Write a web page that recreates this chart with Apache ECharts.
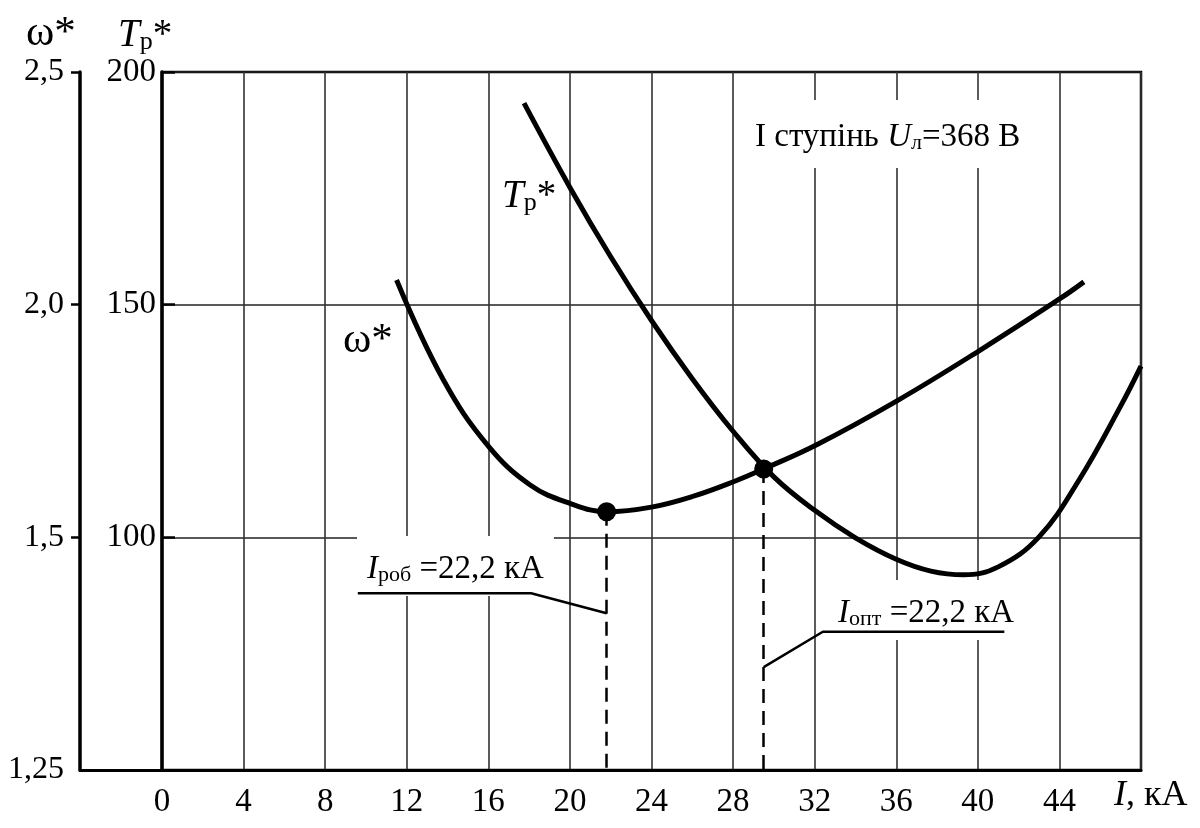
<!DOCTYPE html>
<html>
<head>
<meta charset="utf-8">
<script src="https://cdn.jsdelivr.net/npm/echarts@6/dist/echarts.min.js"></script>
<style>
html,body{margin:0;padding:0;background:#fff;}
#main{width:1200px;height:828px;}
</style>
</head>
<body>
<div id="main"></div>
<script>
// ---- data ----
const xTicks = [0, 4, 8, 12, 16, 20, 24, 28, 32, 36, 40, 44];
const omegaTickLabels = {1: '1,25', 1.5: '1,5', 2: '2,0', 2.5: '2,5'};
const tTickLabels = [100, 150, 200];

// T_p* curve: [I, kA ; T_p*]
const tpCurve = [
  [17.75, 193.3], [20, 175.2], [22, 160.3], [24, 146.6], [26, 134.1],
  [28, 122.8], [30, 113.0], [32, 105.8], [34, 99.9], [36, 95.3],
  [37.7, 92.75], [39.3, 91.95], [41, 93.65], [43, 100.1], [45, 112.6],
  [47, 128.2], [48, 136.8]
];
// omega* curve: [I, kA ; omega*]
const omegaCurve = [
  [11.5, 2.053], [13.8, 1.838], [16.0, 1.696], [18.07, 1.612],
  [20.0, 1.573], [21.8, 1.555], [24.0, 1.565], [26.1, 1.589], [28.05, 1.620],
  [29.5, 1.647], [32.1, 1.699], [36.1, 1.795], [40.1, 1.902], [44.1, 2.015],
  [45.2, 2.049]
];
// marked points (I_rob and I_opt) on omega* scale
const markedPoints = [[21.8, 1.555], [29.5, 1.647]];
// leader lines of the two annotations (omega* scale)
const leaderRob = [[9.6, 1.380], [18.1, 1.380], [21.8, 1.337]];
const leaderOpt = [[29.5, 1.221], [32.4, 1.297], [41.3, 1.297]];

// ---- chart ----
const FONT = 'Liberation Serif';
const chart = echarts.init(document.getElementById('main'), null, {renderer: 'canvas'});

const richBase = {
  n:   {fontFamily: FONT, fontSize: 33, lineHeight: 40, verticalAlign: 'bottom', color: '#000'},
  it:  {fontFamily: FONT, fontSize: 33, lineHeight: 40, fontStyle: 'italic', verticalAlign: 'bottom', color: '#000'},
  sub: {fontFamily: FONT, fontSize: 22, lineHeight: 27, verticalAlign: 'bottom', color: '#000'},
  xn:  {fontFamily: FONT, fontSize: 36, lineHeight: 43, verticalAlign: 'bottom', color: '#000'},
  xit: {fontFamily: FONT, fontSize: 36, lineHeight: 43, fontStyle: 'italic', verticalAlign: 'bottom', color: '#000'},
  om:  {fontFamily: FONT, fontSize: 43, lineHeight: 48, verticalAlign: 'bottom', color: '#000'},
  bn:  {fontFamily: FONT, fontSize: 39, lineHeight: 46, verticalAlign: 'bottom', color: '#000'},
  bit: {fontFamily: FONT, fontSize: 39, lineHeight: 46, fontStyle: 'italic', verticalAlign: 'bottom', color: '#000'},
  bsub:{fontFamily: FONT, fontSize: 26, lineHeight: 31, verticalAlign: 'bottom', color: '#000'}
};

function txt(x, y, text, extra) {
  return {
    type: 'text', x: x, y: y, z: 5, silent: true,
    style: Object.assign({text: text, rich: richBase, align: 'left', verticalAlign: 'bottom',
      fill: '#000', font: '33px ' + FONT}, (extra || {}))
  };
}

const option = {
  animation: false,
  backgroundColor: '#fff',
  grid: [
    {left: 162, right: 59, top: 72, bottom: 58, show: true, borderColor: '#000', borderWidth: 2.5, backgroundColor: 'transparent'},
    {left: 80, width: 82, top: 72, bottom: 58, show: false}
  ],
  xAxis: [
    {
      type: 'value', gridIndex: 0, min: 0, max: 48, interval: 4,
      axisLine: {show: true, onZero: false, lineStyle: {color: '#000', width: 3}},
      axisTick: {show: false},
      axisLabel: {
        margin: 16, color: '#000', fontFamily: FONT, fontSize: 33,
        formatter: v => (xTicks.indexOf(v) >= 0 ? String(v) : '')
      },
      splitLine: {show: true, lineStyle: {color: '#333', width: 1.6}}
    },
    {
      type: 'value', gridIndex: 1, min: 0, max: 1,
      axisLine: {show: true, onZero: false, lineStyle: {color: '#000', width: 3}},
      axisTick: {show: false}, axisLabel: {show: false}, splitLine: {show: false}
    }
  ],
  yAxis: [
    { // T_p* axis
      type: 'value', gridIndex: 0, position: 'left', offset: 0,
      min: 50, max: 200, interval: 50,
      axisLine: {show: true, onZero: false, lineStyle: {color: '#000', width: 3.5}},
      axisTick: {show: false},
      axisLabel: {
        margin: 6, color: '#000', fontFamily: FONT, fontSize: 33, padding: [8, 0, 0, 0],
        formatter: v => (tTickLabels.indexOf(v) >= 0 ? String(v) : '')
      },
      splitLine: {show: true, lineStyle: {color: '#222', width: 1.6}}
    },
    { // omega* axis (outer ticks + labels)
      type: 'value', gridIndex: 0, position: 'left', offset: 82,
      min: 1, max: 2.5, interval: 0.5,
      axisLine: {show: true, onZero: false, lineStyle: {color: '#000', width: 3.5}},
      axisTick: {show: true, inside: false, length: 9, customValues: [1.5, 2, 2.5], lineStyle: {color: '#000', width: 2.5}},
      axisLabel: {
        margin: 16, color: '#000', fontFamily: FONT, fontSize: 32, padding: [6, 0, 0, 0],
        customValues: [1, 1.5, 2, 2.5],
        formatter: v => omegaTickLabels[v] || ''
      },
      splitLine: {show: false}
    },
    { // omega* axis inner tick halves
      type: 'value', gridIndex: 0, position: 'left', offset: 82,
      min: 1, max: 2.5, interval: 0.5,
      axisLine: {show: false},
      axisTick: {show: true, inside: true, length: 13, customValues: [1.5, 2, 2.5], lineStyle: {color: '#000', width: 2.5}},
      axisLabel: {show: false},
      splitLine: {show: false}
    },
    {type: 'value', gridIndex: 1, show: false, min: 0, max: 1}
  ],
  series: [
    {
      name: 'Tp*', type: 'line', xAxisIndex: 0, yAxisIndex: 0,
      data: tpCurve, smooth: 0.4, showSymbol: false, z: 3,
      lineStyle: {color: '#000', width: 5}
    },
    {
      name: 'ω*', type: 'line', xAxisIndex: 0, yAxisIndex: 1,
      data: omegaCurve, smooth: 0.4, showSymbol: false, z: 3,
      lineStyle: {color: '#000', width: 5}
    },
    {
      name: 'points', type: 'scatter', xAxisIndex: 0, yAxisIndex: 1,
      data: markedPoints, symbolSize: 19, z: 4,
      itemStyle: {color: '#000', opacity: 1},
      markLine: {
        silent: true, symbol: ['none', 'none'], label: {show: false},
        lineStyle: {color: '#000', width: 2.5, type: [14, 8]},
        data: markedPoints.map(p => [{coord: [p[0], p[1]]}, {coord: [p[0], 1]}])
      }
    },
    {
      name: 'leaderRob', type: 'line', xAxisIndex: 0, yAxisIndex: 1,
      data: leaderRob, showSymbol: false, z: 6,
      lineStyle: {color: '#000', width: 2.5}
    },
    {
      name: 'leaderOpt', type: 'line', xAxisIndex: 0, yAxisIndex: 1,
      data: leaderOpt, showSymbol: false, z: 6,
      lineStyle: {color: '#000', width: 2.5}
    }
  ],
  graphic: [
    // axis titles
    txt(26, 55, '{om|ω*}'),
    txt(118, 55, '{bit|T}{bsub|р}{bn|*}'),
    // curve labels
    txt(343, 362, '{om|ω*}'),
    txt(502, 216, '{bit|T}{bsub|р}{bn|*}'),
    // stage text with white box
    txt(741, 168, '{n|I ступінь }{it|U}{sub|л}{n|=368 В}', {backgroundColor: '#fff', padding: [14, 14, 14, 14]}),
    // annotations
    txt(357, 596, '{it|I}{sub|роб}{n| =22,2 кА}', {backgroundColor: '#fff', padding: [10, 10, 10, 10]}),
    txt(828, 640, '{it|I}{sub|опт}{n| =22,2 кА}', {backgroundColor: '#fff', padding: [10, 10, 10, 10]}),
    // x axis name
    txt(1114, 814, '{xit|I}{xn|, кА}')
  ]
};
chart.setOption(option);
</script>
</body>
</html>
